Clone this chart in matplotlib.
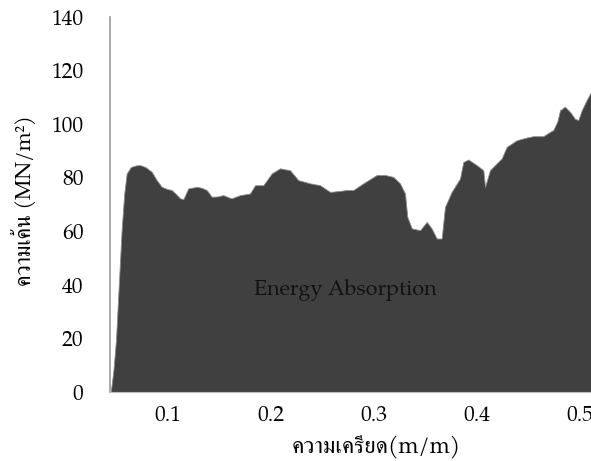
import matplotlib
matplotlib.use("Agg")
import matplotlib.pyplot as plt

# strain (m/m) and stress (MN/m^2)
strain = [0.0444, 0.0470, 0.0495, 0.0525, 0.0550, 0.0575, 0.0599, 0.0640, 0.0690,
          0.0728, 0.0780, 0.0842, 0.0890, 0.0939, 0.0990, 0.1036, 0.1080, 0.1117,
          0.1149, 0.1197, 0.1279, 0.1330, 0.1376, 0.1424, 0.1480, 0.1537, 0.1580,
          0.1618, 0.1699, 0.1796, 0.1845, 0.1925, 0.2007, 0.2087, 0.2184, 0.2265,
          0.2379, 0.2476, 0.2573, 0.2650, 0.2735, 0.2799, 0.2896, 0.3026, 0.3110,
          0.3187, 0.3252, 0.3301, 0.3323, 0.3366, 0.3447, 0.3512, 0.3560, 0.3609,
          0.3657, 0.3689, 0.3754, 0.3835, 0.3867, 0.3916, 0.3997, 0.4061, 0.4078,
          0.4126, 0.4240, 0.4288, 0.4386, 0.4483, 0.4547, 0.4644, 0.4709, 0.4741,
          0.4780, 0.4806, 0.4854, 0.4903, 0.4951, 0.4983, 0.5017, 0.5065, 0.5107,
          0.5150]
stress = [0.0, 8.0, 19.5, 42.0, 60.5, 74.0, 81.6, 84.0, 84.6,
          84.7, 84.0, 82.2, 79.1, 76.6, 75.8, 75.4, 73.8, 72.3,
          72.0, 76.0, 76.6, 76.2, 75.4, 72.9, 73.0, 73.5, 72.8,
          72.3, 73.5, 74.1, 77.2, 77.2, 81.6, 83.5, 82.8, 79.1,
          77.9, 77.2, 74.7, 75.0, 75.4, 75.4, 77.9, 81.0, 81.0,
          80.3, 77.9, 74.1, 65.4, 61.1, 60.4, 63.5, 61.0, 57.3,
          57.3, 69.1, 74.7, 79.7, 85.9, 86.8, 84.7, 82.8, 76.6,
          82.8, 87.2, 91.5, 94.0, 95.0, 95.5, 95.5, 97.1, 97.8,
          101.0, 105.2, 106.5, 104.6, 102.0, 101.5, 105.2, 109.0, 112.0,
          113.0]

yticks = [0, 20, 40, 60, 80, 100, 120, 140]
xticks = [0.1, 0.2, 0.3, 0.4, 0.5]

fonts = ["TeX Gyre Pagella", "P052", "URW Palladio L", "FreeSerif", "DejaVu Serif"]
plt.rcParams["font.family"] = fonts

fig = plt.figure(figsize=(5.91, 4.61), dpi=100)
ax = fig.add_axes([110 / 591, 69 / 461, 573 / 591, 375 / 461])

ax.fill_between(strain, 0, stress, facecolor="#404040", edgecolor="#8c8c8c",
                linewidth=0.6)

ax.set_xlim(0.0437, 0.6)
ax.set_ylim(0, 140)
ax.set_xticks(xticks)
ax.set_xticklabels([str(t) for t in xticks])
ax.set_yticks(yticks)
ax.tick_params(length=0, labelsize=15.5, colors="#000000")
ax.tick_params(axis="y", pad=19)
ax.tick_params(axis="x", pad=10)

for s in ["top", "right"]:
    ax.spines[s].set_visible(False)
ax.spines["left"].set_color("#999999")
ax.spines["bottom"].set_color("#bfbfbf")
ax.spines["left"].set_linewidth(1.2)

ax.text(0.2718, 38, "Energy Absorption", ha="center", va="center",
        fontsize=15.5, color="#111111")

ax.set_xlabel("ความเครียด(m/m)", fontsize=16.5)
ax.xaxis.set_label_coords(0.464, -0.117)
ax.set_ylabel("ความเค้น (MN/m²)", fontsize=15.5)
ax.yaxis.set_label_coords(-0.128, 0.51)

fig.savefig("out.png", dpi=100)
